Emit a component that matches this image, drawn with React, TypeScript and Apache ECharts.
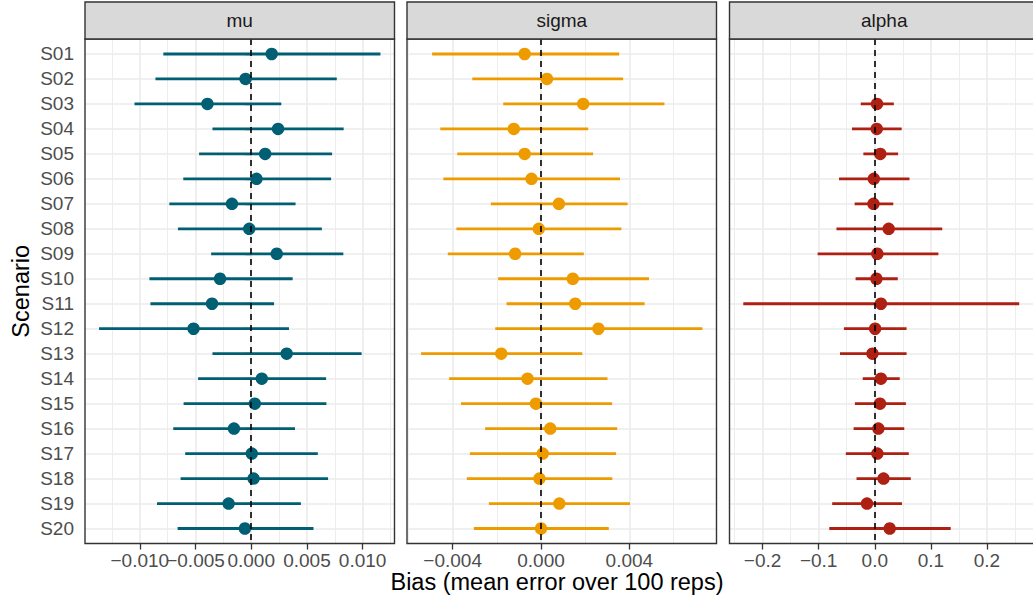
import React, { useEffect, useRef } from "react";
import * as echarts from "echarts";

// Simulation scenarios
const scenarios = [
  "S01", "S02", "S03", "S04", "S05", "S06", "S07", "S08", "S09", "S10",
  "S11", "S12", "S13", "S14", "S15", "S16", "S17", "S18", "S19", "S20",
];

// Bias of mu: point estimate and interval bounds
const muEst = [0.00184, -0.00051, -0.00393, 0.00241, 0.00125, 0.00047, -0.00173, -0.00018, 0.00229, -0.0028,
  -0.00352, -0.00518, 0.00318, 0.00095, 0.00032, -0.00155, 0.00005, 0.00021, -0.00203, -0.00057];
const muLo = [-0.00789, -0.0086, -0.01048, -0.00348, -0.00468, -0.0061, -0.00735, -0.00658, -0.0036, -0.00914,
  -0.00905, -0.01366, -0.00348, -0.00477, -0.00607, -0.007, -0.00593, -0.00634, -0.00846, -0.00661];
const muHi = [0.0116, 0.00768, 0.0027, 0.0083, 0.00726, 0.00717, 0.00398, 0.00634, 0.00827, 0.00372,
  0.00205, 0.00339, 0.00991, 0.00672, 0.00675, 0.00393, 0.00598, 0.0069, 0.00446, 0.00559];

// Bias of sigma
const sigmaEst = [-0.00074, 0.00027, 0.00191, -0.00123, -0.00074, -0.00043, 0.00081, -0.0001, -0.00117, 0.00144,
  0.00155, 0.0026, -0.0018, -0.00061, -0.00023, 0.00042, 0.00008, -0.00007, 0.00083, 0.0];
const sigmaLo = [-0.00493, -0.00311, -0.00171, -0.00456, -0.00379, -0.00442, -0.00227, -0.00383, -0.00422, -0.00194,
  -0.00156, -0.00207, -0.00543, -0.00416, -0.00362, -0.00253, -0.00322, -0.00336, -0.00236, -0.00304];
const sigmaHi = [0.00354, 0.00372, 0.00559, 0.00214, 0.00236, 0.00358, 0.00392, 0.00364, 0.00194, 0.00489,
  0.00469, 0.00731, 0.00187, 0.00301, 0.00322, 0.00345, 0.0034, 0.00323, 0.00403, 0.00307];

// Bias of alpha (not estimated in S01 and S02)
const alphaEst = [null, null, 0.004, 0.0035, 0.0098, -0.0017, -0.0023, 0.0248, 0.0046, 0.0029,
  0.011, 0.0006, -0.0041, 0.011, 0.0093, 0.0064, 0.0046, 0.0156, -0.0139, 0.0266];
const alphaLo = [null, null, -0.025, -0.0406, -0.0203, -0.0637, -0.0359, -0.0683, -0.1019, -0.0342,
  -0.2344, -0.055, -0.062, -0.0215, -0.0354, -0.0377, -0.0516, -0.0325, -0.0759, -0.0811];
const alphaHi = [null, null, 0.034, 0.048, 0.0416, 0.0619, 0.033, 0.1203, 0.1134, 0.041,
  0.2575, 0.0567, 0.0567, 0.0445, 0.0555, 0.0526, 0.0607, 0.0642, 0.0486, 0.1354];

// Tick values per panel
const muTicks = [-0.01, -0.005, 0, 0.005, 0.01];
const muMinor = [-0.0125, -0.0075, -0.0025, 0.0025, 0.0075, 0.0125];
const sigmaTicks = [-0.004, 0, 0.004];
const sigmaMinor = [-0.006, -0.002, 0.002, 0.006];
const alphaTicks = [-0.2, -0.1, 0, 0.1, 0.2];
const alphaMinor = [-0.25, -0.15, -0.05, 0.05, 0.15, 0.25];

const panelNames = ["mu", "sigma", "alpha"];
const colors = ["#005F73", "#EE9B00", "#AE2012"];

const FONT = "'Liberation Sans', Arial, Helvetica, sans-serif";

type Panel = {
  est: (number | null)[];
  lo: (number | null)[];
  hi: (number | null)[];
  ticks: number[];
  minor: number[];
  digits: number;
};

const panels: Panel[] = [
  { est: muEst, lo: muLo, hi: muHi, ticks: muTicks, minor: muMinor, digits: 3 },
  { est: sigmaEst, lo: sigmaLo, hi: sigmaHi, ticks: sigmaTicks, minor: sigmaMinor, digits: 3 },
  { est: alphaEst, lo: alphaLo, hi: alphaHi, ticks: alphaTicks, minor: alphaMinor, digits: 1 },
];

// Layout of the facet panels
const PANEL_LEFT = [85, 407, 729.5];
const PANEL_W = 309.5;
const PANEL_TOP = 39;
const PANEL_H = 504.5;
const STRIP_TOP = 2;

function fmt(v: number, digits: number): string {
  const s = Math.abs(v).toFixed(digits);
  return v < -1e-12 ? "\u2212" + s : s;
}

function range(lo: (number | null)[], hi: (number | null)[]): [number, number] {
  const vals = [...lo, ...hi].filter((v): v is number => v !== null);
  const mn = Math.min(...vals);
  const mx = Math.max(...vals);
  const pad = (mx - mn) * 0.05;
  return [mn - pad, mx + pad];
}

export default function App() {
  const ref = useRef<HTMLDivElement>(null);

  useEffect(() => {
    if (!ref.current) return;
    const chart = echarts.init(ref.current, undefined, { renderer: "svg" });

    const grids: any[] = [];
    const xAxes: any[] = [];
    const yAxes: any[] = [];
    const series: any[] = [];
    const graphics: any[] = [];
    const rowValues = scenarios.map((_, i) => i + 1);

    const labelStyle = (p: Panel, values: number[]) => ({
      show: true,
      customValues: values,
      formatter: (v: number) => fmt(v, p.digits),
      color: "#4D4D4D",
      fontSize: 19,
      fontFamily: FONT,
      margin: 7,
      hideOverlap: false,
      showMinLabel: true,
      showMaxLabel: true,
    });

    panels.forEach((p, k) => {
      const [xmin, xmax] = range(p.lo, p.hi);
      grids.push({
        left: PANEL_LEFT[k],
        top: PANEL_TOP,
        width: PANEL_W,
        height: PANEL_H,
        show: true,
        backgroundColor: "#FFFFFF",
        borderColor: "transparent",
        borderWidth: 0,
      });

      // labels are split over two coincident axes so neighbouring labels never get culled
      const evenTicks = p.ticks.filter((_, i) => i % 2 === 0);
      const oddTicks = p.ticks.filter((_, i) => i % 2 === 1);

      // major x axis: ticks, grid lines, every other label
      xAxes.push({
        type: "value",
        gridIndex: k,
        position: "bottom",
        min: xmin,
        max: xmax,
        axisLine: { show: false },
        axisTick: {
          show: true,
          customValues: p.ticks,
          length: 6,
          lineStyle: { color: "#333333", width: 1.3 },
        },
        axisLabel: labelStyle(p, evenTicks),
        splitLine: { show: true, lineStyle: { color: "#EBEBEB", width: 1.6 } },
      });
      // remaining labels
      xAxes.push({
        type: "value",
        gridIndex: k,
        position: "bottom",
        offset: 0,
        min: xmin,
        max: xmax,
        axisLine: { show: false },
        axisTick: { show: false, customValues: oddTicks },
        axisLabel: labelStyle(p, oddTicks),
        splitLine: { show: false },
      });
      // minor x grid lines
      xAxes.push({
        type: "value",
        gridIndex: k,
        position: "top",
        min: xmin,
        max: xmax,
        axisLine: { show: false },
        axisTick: { show: false, customValues: p.minor },
        axisLabel: { show: false },
        splitLine: { show: true, lineStyle: { color: "#EBEBEB", width: 0.9 } },
      });

      yAxes.push({
        type: "value",
        gridIndex: k,
        inverse: true,
        min: 0.4,
        max: 20.6,
        axisLine: { show: false },
        axisTick: {
          show: k === 0,
          customValues: rowValues,
          length: 6,
          lineStyle: { color: "#333333", width: 1.3 },
        },
        axisLabel: {
          show: k === 0,
          customValues: rowValues,
          formatter: (v: number) => scenarios[Math.round(v) - 1] ?? "",
          color: "#4D4D4D",
          fontSize: 19,
          fontFamily: FONT,
          margin: 11,
        },
        splitLine: { show: true, lineStyle: { color: "#EBEBEB", width: 1.6 } },
        ...(k === 0
          ? {
              name: "Scenario",
              nameLocation: "middle",
              nameGap: 52,
              nameRotate: 90,
              nameTextStyle: { fontSize: 23.5, color: "#000000", fontFamily: FONT },
            }
          : {}),
      });

      const barData: any[] = [];
      const ptData: any[] = [];
      scenarios.forEach((_, i) => {
        if (p.lo[i] !== null && p.hi[i] !== null) barData.push([p.lo[i], p.hi[i], i + 1]);
        if (p.est[i] !== null) ptData.push([p.est[i], i + 1]);
      });

      const color = colors[k];
      const xi = 3 * k;

      // reference line at zero bias
      series.push({
        type: "scatter",
        xAxisIndex: xi,
        yAxisIndex: k,
        data: [],
        z: 2,
        markLine: {
          silent: true,
          symbol: ["none", "none"],
          label: { show: false },
          lineStyle: { color: "#000000", width: 1.6, type: [6, 5] },
          data: [{ xAxis: 0 }],
        },
      });

      // interval bars
      series.push({
        type: "custom",
        xAxisIndex: xi,
        yAxisIndex: k,
        z: 3,
        encode: { x: [0, 1], y: 2 },
        data: barData,
        renderItem: (_params: any, api: any) => {
          const a = api.coord([api.value(0), api.value(2)]);
          const b = api.coord([api.value(1), api.value(2)]);
          return {
            type: "line",
            shape: { x1: a[0], y1: a[1], x2: b[0], y2: b[1] },
            style: { stroke: color, lineWidth: 2.8 },
          };
        },
      });

      // point estimates
      series.push({
        type: "scatter",
        xAxisIndex: xi,
        yAxisIndex: k,
        z: 4,
        symbol: "circle",
        symbolSize: 12.5,
        itemStyle: { color, opacity: 1 },
        data: ptData,
      });

      // panel border
      graphics.push({
        type: "rect",
        z: 100,
        silent: true,
        shape: { x: PANEL_LEFT[k], y: PANEL_TOP, width: PANEL_W, height: PANEL_H },
        style: { fill: "none", stroke: "#333333", lineWidth: 1.4 },
      });
      // facet strip
      graphics.push({
        type: "rect",
        z: 100,
        silent: true,
        shape: { x: PANEL_LEFT[k], y: STRIP_TOP, width: PANEL_W, height: PANEL_TOP - STRIP_TOP },
        style: { fill: "#D9D9D9", stroke: "#333333", lineWidth: 1.4 },
      });
      graphics.push({
        type: "text",
        z: 101,
        silent: true,
        x: PANEL_LEFT[k] + PANEL_W / 2,
        y: (STRIP_TOP + PANEL_TOP) / 2,
        style: {
          text: panelNames[k],
          fill: "#1A1A1A",
          font: `19px ${FONT}`,
          align: "center",
          verticalAlign: "middle",
        },
      });
    });

    graphics.push({
      type: "text",
      silent: true,
      x: 557,
      y: 582,
      style: {
        text: "Bias (mean error over 100 reps)",
        fill: "#000000",
        font: `23.5px ${FONT}`,
        align: "center",
        verticalAlign: "middle",
      },
    });

    chart.setOption({
      animation: false,
      backgroundColor: "#FFFFFF",
      grid: grids,
      xAxis: xAxes,
      yAxis: yAxes,
      series,
      graphic: graphics,
    });

    return () => chart.dispose();
  }, []);

  return (
    <div
      ref={ref}
      style={{ position: "fixed", left: 0, top: 0, width: 1033, height: 605 }}
    />
  );
}
